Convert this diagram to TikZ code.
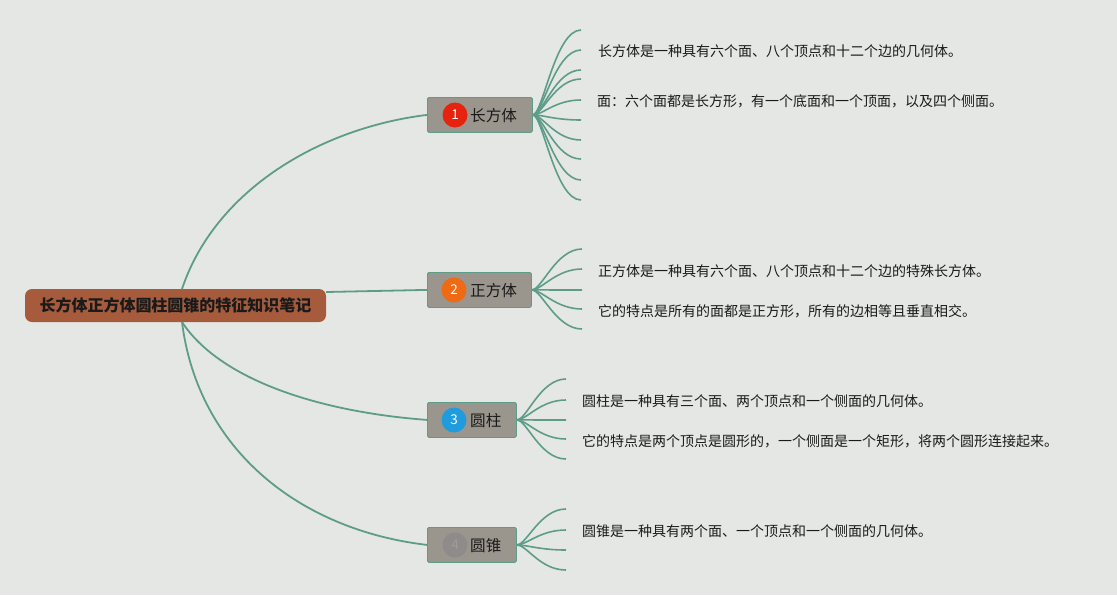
\documentclass[tikz,border=0pt]{standalone}
\usepackage{fontspec}
\newfontfamily\cjk{Noto Sans CJK SC}
\usetikzlibrary{calc}
\definecolor{bg}{HTML}{E5E7E4}
\definecolor{edge}{HTML}{5E9C8A}
\definecolor{rootfill}{HTML}{A65B3D}
\definecolor{boxfill}{HTML}{9A958D}
\definecolor{cred}{HTML}{E6230F}
\definecolor{corange}{HTML}{EE6A14}
\definecolor{cblue}{HTML}{1F9CDE}
\definecolor{cgray}{HTML}{8E8B8A}
\definecolor{txt}{HTML}{1A1A1A}
\tikzset{
  conn/.style={draw=edge, line width=1.8pt},
  fan/.style={draw=edge, line width=1.6pt},
  topic/.style={draw=edge, line width=0.8pt, fill=boxfill, rounded corners=1.5pt, inner sep=0pt, anchor=north west},
  badge/.style={circle, fill=#1, minimum size=25pt, inner sep=0pt, text=white, font=\cjk\fontsize{13.5}{13.5}\selectfont},
  label/.style={font=\cjk\fontsize{15.6}{16}\selectfont, text=txt, anchor=west, inner sep=0pt},
  leaf/.style={font=\cjk\fontsize{14}{16}\selectfont, text=txt, anchor=west, inner sep=0pt},
}
\begin{document}
\begin{tikzpicture}[x=1pt,y=-1pt]
\fill[bg] (0,0) rectangle (1117,595);
\useasboundingbox (0,0) rectangle (1117,595);

% root
\node[fill=rootfill, rounded corners=7pt, minimum width=301pt, minimum height=33pt, inner sep=0pt,
      font=\cjk\bfseries\fontsize{16}{16}\selectfont, text=txt] (root) at (175.5,305.5) {长方体正方体圆柱圆锥的特征知识笔记};

% topic boxes
\node[topic, minimum width=105pt, minimum height=35pt] (b1) at (427,97) {};
\node[topic, minimum width=104pt, minimum height=35pt] (b2) at (427,272) {};
\node[topic, minimum width=89pt, minimum height=35pt] (b3) at (427,402) {};
\node[topic, minimum width=89pt, minimum height=35pt] (b4) at (427,527) {};

\node[badge=cred] (c1) at (455,115) {1};
\node[badge=corange] (c2) at (454,290) {2};
\node[badge=cblue] (c3) at (454,420) {3};
\node[badge=cgray, text=cgray!85!white] (c4) at (455,545) {4};

\node[label] (l1) at (470,116) {长方体};
\node[label] (l2) at (470,291) {正方体};
\node[label] (l3) at (470,421) {圆柱};
\node[label] (l4) at (470,546) {圆锥};

% main connectors
\coordinate (rt) at (182,289);
\coordinate (rb) at (182,322);
\draw[conn] (rt) .. controls (215,190) and (320,128) .. (b1.west);
\draw[conn] (root.east |- 0,292) -- (b2.west);
\draw[conn] (rb) .. controls (220,380) and (320,412) .. (b3.west);
\draw[conn] (rb) .. controls (198,450) and (300,530) .. (b4.west);

% fans
\foreach \y [count=\i] in {30,50,70,79,100,120,140,159,180,200}{
  \coordinate (f1-\i) at (581,\y);
  \draw[fan] (b1.east) .. controls +(10,0) and +(-26,0) .. (f1-\i);
}
\foreach \y [count=\i] in {249,269,290,309,329}{
  \coordinate (f2-\i) at (582,\y);
  \draw[fan] (b2.east) .. controls +(10,0) and +(-26,0) .. (f2-\i);
}
\foreach \y [count=\i] in {379,400,420,439,459}{
  \coordinate (f3-\i) at (566,\y);
  \draw[fan] (b3.east) .. controls +(10,0) and +(-26,0) .. (f3-\i);
}
\foreach \y [count=\i] in {509,530,550,570}{
  \coordinate (f4-\i) at (566,\y);
  \draw[fan] (b4.east) .. controls +(10,0) and +(-26,0) .. (f4-\i);
}

% leaf texts
\node[leaf] (t1a) at (598,51) {长方体是一种具有六个面、八个顶点和十二个边的几何体。};
\node[leaf] (t1b) at (597,101) {面：六个面都是长方形，有一个底面和一个顶面，以及四个侧面。};
\node[leaf] (t2a) at (598,271) {正方体是一种具有六个面、八个顶点和十二个边的特殊长方体。};
\node[leaf] (t2b) at (598,311) {它的特点是所有的面都是正方形，所有的边相等且垂直相交。};
\node[leaf] (t3a) at (582,401) {圆柱是一种具有三个面、两个顶点和一个侧面的几何体。};
\node[leaf] (t3b) at (582,441) {它的特点是两个顶点是圆形的，一个侧面是一个矩形，将两个圆形连接起来。};
\node[leaf] (t4a) at (582,531) {圆锥是一种具有两个面、一个顶点和一个侧面的几何体。};
\end{tikzpicture}
\end{document}
